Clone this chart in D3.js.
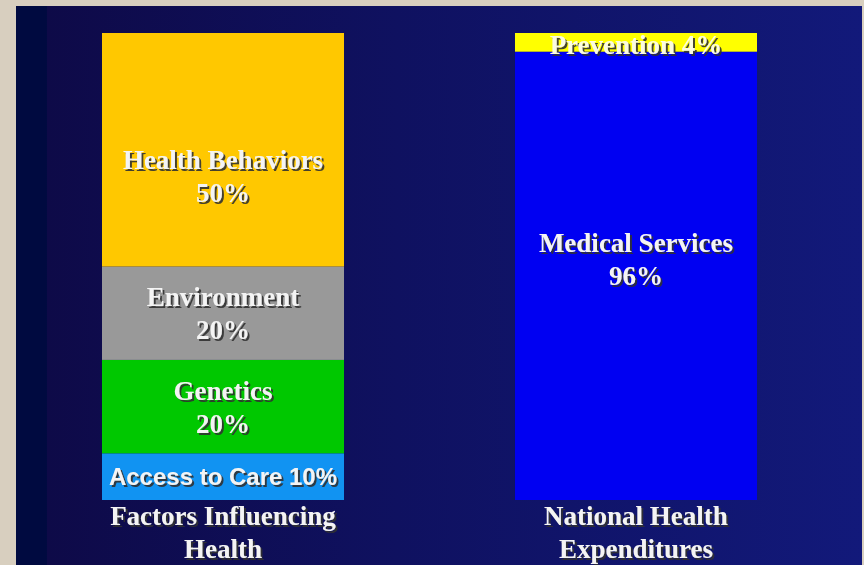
<!DOCTYPE html>
<html lang="en">
<head>
  <meta charset="UTF-8">
  <title>Factors Influencing Health vs National Health Expenditures</title>
  <script src="https://d3js.org/d3.v7.min.js"></script>
  <style>
    body { margin: 0; background: #d8cfbf; }
    svg { display: block; }
  </style>
</head>
<body>
  <div id="chart"></div>
  <script>
    // categories and stacked segments (percent)
    const categories = ["Factors Influencing Health", "National Health Expenditures"];
    const categoryLines = [["Factors Influencing", "Health"], ["National Health", "Expenditures"]];
    const factorNames = ["Access to Care", "Genetics", "Environment", "Health Behaviors"];
    const factorValues = [10, 20, 20, 50];
    const spendNames = ["Medical Services", "Prevention"];
    const spendValues = [96, 4];

    const colors = {
      "Access to Care": "#1193f2",
      "Genetics": "#00c800",
      "Environment": "#999999",
      "Health Behaviors": "#ffc800",
      "Medical Services": "#0000f2",
      "Prevention": "#ffff00"
    };

    const W = 864, H = 565;
    const svg = d3.select("#chart").append("svg").attr("width", W).attr("height", H);

    const defs = svg.append("defs");
    const grad = defs.append("linearGradient").attr("id", "bg").attr("x1", 0).attr("x2", 1).attr("y1", 0).attr("y2", 0);
    grad.append("stop").attr("offset", "0%").attr("stop-color", "#000a40");
    grad.append("stop").attr("offset", "3.6%").attr("stop-color", "#000a40");
    grad.append("stop").attr("offset", "3.7%").attr("stop-color", "#0e0a48");
    grad.append("stop").attr("offset", "45%").attr("stop-color", "#0f1160");
    grad.append("stop").attr("offset", "100%").attr("stop-color", "#12197a");
    const sh = defs.append("filter").attr("id", "shadow").attr("x", "-10%").attr("y", "-20%").attr("width", "130%").attr("height", "160%");
    sh.append("feDropShadow").attr("dx", 2).attr("dy", 2).attr("stdDeviation", 0.6)
      .attr("flood-color", "#333333").attr("flood-opacity", 0.9);

    // navy panel over the textured frame
    svg.append("rect").attr("x", 16).attr("y", 6).attr("width", 846).attr("height", H - 6).attr("fill", "url(#bg)");

    const x = d3.scaleBand().domain(categories).range([102, 757]).paddingInner(0.414).paddingOuter(0);
    const y = d3.scaleLinear().domain([0, 100]).range([500, 33]);

    function stackBar(cat, names, values) {
      let acc = 0;
      return names.map((n, i) => {
        const d = { cat, name: n, value: values[i], y0: acc, y1: acc + values[i] };
        acc += values[i];
        return d;
      });
    }
    const segs = stackBar(categories[0], factorNames, factorValues)
      .concat(stackBar(categories[1], spendNames, spendValues));

    svg.selectAll(".seg").data(segs).enter().append("rect")
      .attr("class", "seg")
      .attr("x", d => x(d.cat))
      .attr("y", d => y(d.y1))
      .attr("width", x.bandwidth())
      .attr("height", d => y(d.y0) - y(d.y1))
      .attr("fill", d => colors[d.name]);

    const serif = "'Liberation Serif', 'Times New Roman', serif";
    const sans = "'Liberation Sans', Arial, sans-serif";

    // segment labels
    const labels = svg.append("g").attr("filter", "url(#shadow)");
    segs.forEach(d => {
      const cx = x(d.cat) + x.bandwidth() / 2;
      const top = y(d.y1), bot = y(d.y0);
      if (d.name === "Access to Care") {
        labels.append("text").attr("x", cx).attr("y", (top + bot) / 2 + 8)
          .attr("text-anchor", "middle").attr("font-family", sans).attr("font-weight", "bold")
          .attr("font-size", "24px").attr("fill", "#f4f4f4").text(`${d.name} ${d.value}%`);
      } else if (d.name === "Prevention") {
        labels.append("text").attr("x", cx).attr("y", top + 21)
          .attr("text-anchor", "middle").attr("font-family", serif).attr("font-weight", "bold")
          .attr("font-size", "27px").attr("fill", "#fbfbe0").text(`${d.name} ${d.value}%`);
      } else {
        let mid = (top + bot) / 2;
        if (d.name === "Health Behaviors") mid = 176;
        if (d.name === "Medical Services") mid = 259;
        const t = labels.append("text").attr("text-anchor", "middle").attr("font-family", serif)
          .attr("font-weight", "bold").attr("font-size", "27px").attr("fill", "#f4f4f4");
        t.append("tspan").attr("x", cx).attr("y", mid - 7).text(d.name);
        t.append("tspan").attr("x", cx).attr("y", mid + 26).text(`${d.value}%`);
      }
    });

    // category labels under the bars
    const cl = svg.append("g").attr("filter", "url(#shadow)");
    categories.forEach((c, i) => {
      const cx = x(c) + x.bandwidth() / 2;
      const t = cl.append("text").attr("text-anchor", "middle").attr("font-family", serif)
        .attr("font-weight", "bold").attr("font-size", "27px").attr("fill", "#f4f4f4");
      categoryLines[i].forEach((ln, j) => {
        t.append("tspan").attr("x", cx).attr("y", 525 + j * 33).text(ln);
      });
    });
  </script>
</body>
</html>
